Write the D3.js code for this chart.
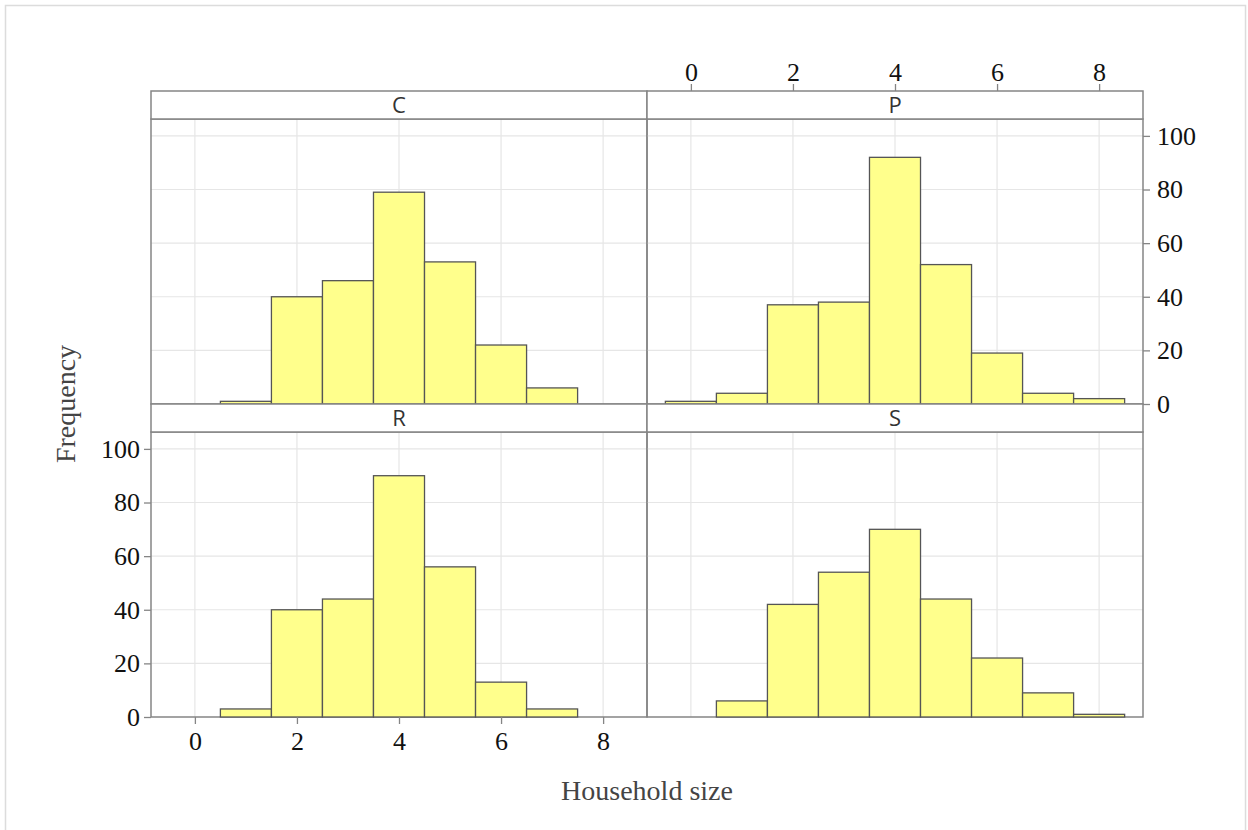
<!DOCTYPE html>
<html lang="en">
<head>
<meta charset="UTF-8" />
<title>Household size histograms</title>
<script src="https://d3js.org/d3.v7.min.js"></script>
<style>
  body { margin: 0; background: #fff; }
</style>
</head>
<body>
<script>
// household size bins (centres) and counts for each panel
var bins = [0, 1, 2, 3, 4, 5, 6, 7, 8];
var panelNames = ["C", "P", "R", "S"];
var countsC = [0, 1, 40, 46, 79, 53, 22, 6, 0];
var countsP = [1, 4, 37, 38, 92, 52, 19, 4, 2];
var countsR = [0, 3, 40, 44, 90, 56, 13, 3, 0];
var countsS = [0, 6, 42, 54, 70, 44, 22, 9, 1];
var xTicks = [0, 2, 4, 6, 8];
var yTicks = [0, 20, 40, 60, 80, 100];

var panelCounts = [countsC, countsP, countsR, countsS];

var W = 1248, H = 830;
var marginLeft = 151, marginTop = 91;
var panelW = 496, stripH = 28, plotH = 285;

var serif = "'Liberation Serif', 'Times New Roman', serif";
var sans = "'Open Sans', 'DejaVu Sans', sans-serif";
var frameColor = "#858585";

var svg = d3.select("body").append("svg")
  .attr("width", W)
  .attr("height", H);

// outer light border
svg.append("rect")
  .attr("x", 5.5).attr("y", 5.5)
  .attr("width", 1240).attr("height", 840)
  .attr("fill", "none")
  .attr("stroke", "#dcdcdc")
  .attr("stroke-width", 1.5);

var x = d3.scaleLinear().domain([-0.86, 8.86]).range([0, panelW]);
var y = d3.scaleLinear().domain([0, 106.3]).range([plotH, 0]);

panelNames.forEach(function (name, i) {
  var col = i % 2, row = Math.floor(i / 2);
  var px = marginLeft + col * panelW;
  var py = marginTop + row * (stripH + plotH);
  var g = svg.append("g").attr("transform", "translate(" + px + "," + py + ")");
  var plot = g.append("g").attr("transform", "translate(0," + stripH + ")");

  // grid
  plot.selectAll("line.vg").data(xTicks).enter().append("line")
    .attr("x1", d => x(d)).attr("x2", d => x(d))
    .attr("y1", 0).attr("y2", plotH)
    .attr("stroke", "#e6e6e6").attr("stroke-width", 1.2);
  plot.selectAll("line.hg").data(yTicks.slice(1)).enter().append("line")
    .attr("x1", 0).attr("x2", panelW)
    .attr("y1", d => y(d)).attr("y2", d => y(d))
    .attr("stroke", "#e6e6e6").attr("stroke-width", 1.2);

  // panel frame
  plot.append("rect")
    .attr("width", panelW).attr("height", plotH)
    .attr("fill", "none")
    .attr("stroke", frameColor).attr("stroke-width", 1.5);

  // bars (zero counts end up as flat lines on the baseline)
  var data = bins.map((b, k) => ({ b: b, n: panelCounts[i][k] }));
  plot.selectAll("rect.bar").data(data).enter().append("rect")
    .attr("x", d => x(d.b - 0.5))
    .attr("width", d => x(d.b + 0.5) - x(d.b - 0.5))
    .attr("y", d => y(d.n))
    .attr("height", d => y(0) - y(d.n))
    .attr("fill", "#ffff8c")
    .attr("stroke", "#555")
    .attr("stroke-width", 1.3);

  // strip
  g.append("rect")
    .attr("x", 0).attr("y", 0)
    .attr("width", panelW).attr("height", stripH)
    .attr("fill", "#fff")
    .attr("stroke", frameColor).attr("stroke-width", 1.5);
  g.append("text")
    .attr("x", panelW / 2).attr("y", stripH / 2 + 7.5)
    .attr("text-anchor", "middle")
    .attr("font-family", sans).attr("font-size", 22)
    .attr("fill", "#333")
    .text(name);

  // axes, lattice-style alternating
  function styleAxis(a) {
    a.select(".domain").remove();
    a.selectAll(".tick line").attr("stroke", frameColor).attr("stroke-width", 1.3);
    a.selectAll(".tick text")
      .attr("font-family", serif).attr("font-size", 26).attr("fill", "#111");
  }
  if (name === "R") {
    plot.append("g").attr("transform", "translate(0," + plotH + ")")
      .call(d3.axisBottom(x).tickValues(xTicks).tickSize(7).tickPadding(8))
      .call(styleAxis);
    plot.append("g")
      .call(d3.axisLeft(y).tickValues(yTicks).tickSize(7).tickPadding(4))
      .call(styleAxis);
  }
  if (name === "P") {
    g.append("g")
      .call(d3.axisTop(x).tickValues(xTicks).tickSize(7).tickPadding(3))
      .call(styleAxis);
    plot.append("g").attr("transform", "translate(" + panelW + ",0)")
      .call(d3.axisRight(y).tickValues(yTicks).tickSize(7).tickPadding(7))
      .call(styleAxis);
  }
});

// axis titles
svg.append("text")
  .attr("x", marginLeft + panelW)
  .attr("y", 800)
  .attr("text-anchor", "middle")
  .attr("font-family", serif).attr("font-size", 28)
  .attr("fill", "#444")
  .text("Household size");

svg.append("text")
  .attr("transform", "translate(75," + (marginTop + stripH + plotH) + ") rotate(-90)")
  .attr("text-anchor", "middle")
  .attr("font-family", serif).attr("font-size", 28)
  .attr("fill", "#444")
  .text("Frequency");
</script>
</body>
</html>
